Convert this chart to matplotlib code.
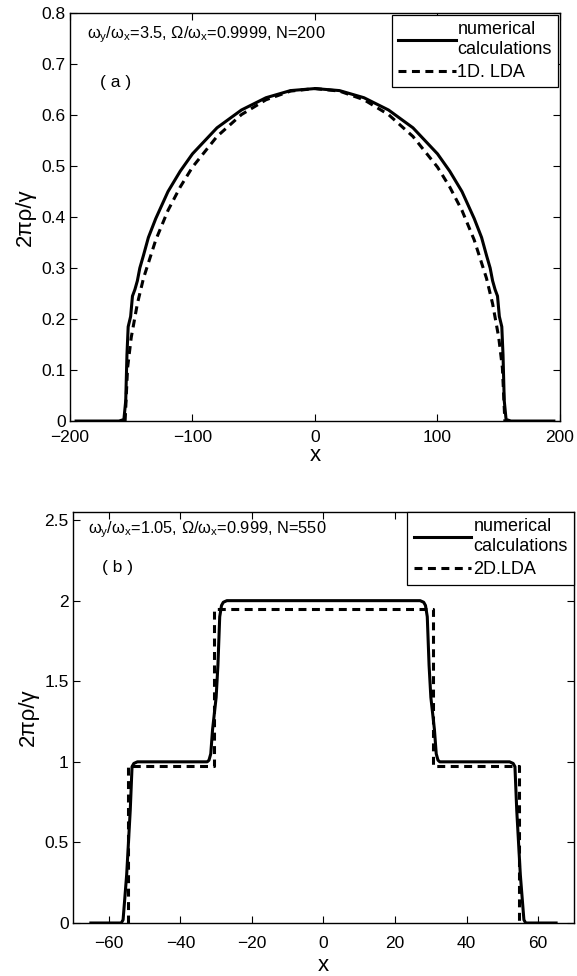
import matplotlib
matplotlib.use('Agg')
import matplotlib.pyplot as plt

plt.rcParams['font.family'] = ['Liberation Sans', 'DejaVu Sans']
plt.rcParams['mathtext.fontset'] = 'custom'
plt.rcParams['mathtext.rm'] = 'Liberation Sans'
plt.rcParams['mathtext.it'] = 'Liberation Sans'
plt.rcParams['mathtext.bf'] = 'Liberation Sans:bold'

# panel (a): density profile, numerical vs 1D LDA
xa_num = [-195, -160, -156, -154.5, -153.5, -152.5, -151.5, -150.5, -149, -147, -145,
          -143, -140, -136, -130, -120, -110, -100, -80, -60, -40, -20, 0,
          20, 40, 60, 80, 100, 110, 120, 130, 136, 140, 143, 145, 147, 149,
          150.5, 151.5, 152.5, 153.5, 154.5, 156, 160, 195]
ya_num = [0.0, 0.0, 0.003, 0.04, 0.13, 0.185, 0.195, 0.205, 0.245, 0.258, 0.275,
          0.30, 0.325, 0.36, 0.397, 0.45, 0.49, 0.524, 0.575, 0.61, 0.634, 0.648, 0.652,
          0.648, 0.634, 0.61, 0.575, 0.524, 0.49, 0.45, 0.397, 0.36, 0.325, 0.30, 0.275,
          0.258, 0.245, 0.205, 0.195, 0.185, 0.13, 0.04, 0.003, 0.0, 0.0]
xa_lda = [-155, -153, -150, -145, -140, -130, -120, -110, -100, -80, -60, -40, -20, 0,
          20, 40, 60, 80, 100, 110, 120, 130, 140, 145, 150, 153, 155]
ya_lda = [0.0, 0.104, 0.164, 0.23, 0.28, 0.355, 0.413, 0.459, 0.498, 0.558, 0.601, 0.63,
          0.647, 0.652, 0.647, 0.63, 0.601, 0.558, 0.498, 0.459, 0.413, 0.355, 0.28,
          0.23, 0.164, 0.104, 0.0]

# panel (b): shell structure, numerical vs 2D LDA
xb_num = [-65, -56.5, -56, -55, -54, -53.5, -53, -52, -33, -32.5, -32, -31.5, -31,
          -30.5, -30, -29.5, -29, -28.5, -28, -27, 0,
          27, 28, 28.5, 29, 29.5, 30, 30.5, 31, 31.5, 32, 32.5, 33, 52, 53, 53.5,
          54, 55, 56, 56.5, 65]
yb_num = [0.0, 0.0, 0.02, 0.3, 0.7, 0.97, 0.99, 1.0, 1.0, 1.0, 1.01, 1.05, 1.2,
          1.3, 1.4, 1.6, 1.9, 1.97, 1.99, 2.0, 2.0,
          2.0, 1.99, 1.97, 1.9, 1.6, 1.4, 1.3, 1.2, 1.05, 1.01, 1.0, 1.0, 1.0, 0.99,
          0.97, 0.7, 0.3, 0.02, 0.0, 0.0]
xb_lda = [-54.7, -54.7, -30.7, -30.7, 30.7, 30.7, 54.7, 54.7]
yb_lda = [0.0, 0.975, 0.975, 1.95, 1.95, 0.975, 0.975, 0.0]


def style(ax, xticks, yticks, ylabels, xpad, xlabelpad):
    ax.set_xticks(xticks)
    ax.set_xticklabels([str(t).replace('-', '\u2212') for t in xticks])
    ax.set_yticks(yticks)
    ax.set_yticklabels(ylabels)
    ax.tick_params(direction='in', length=5, width=0.8, top=True, right=True,
                   labelsize=12.5, pad=3)
    ax.tick_params(axis='x', pad=xpad)
    for s in ax.spines.values():
        s.set_linewidth(1.0)
    ax.set_xlabel('x', fontsize=16, labelpad=xlabelpad)
    ax.set_ylabel('2\u03c0\u03c1/\u03b3', fontsize=16, labelpad=4)


def legend(ax, pad):
    leg = ax.legend(loc='upper right', fontsize=13, handlelength=3.2, handletextpad=0.1,
                    borderaxespad=pad, fancybox=False, framealpha=1, borderpad=0.35,
                    labelspacing=0.35)
    leg.get_frame().set_edgecolor('black')
    leg.get_frame().set_linewidth(0.9)


fig = plt.figure(figsize=(5.77, 9.76), dpi=100)

ax1 = fig.add_axes([0.1213, 0.5686, 0.8492, 0.418])
ax1.plot(xa_num, ya_num, 'k-', lw=2.2, label='numerical\ncalculations')
ax1.plot(xa_lda, ya_lda, 'k--', lw=2.2, dashes=(2.6, 1.8), label='1D. LDA')
ax1.set_xlim(-200, 200)
ax1.set_ylim(0, 0.8)
style(ax1, [-200, -100, 0, 100, 200], [0, 0.1, 0.2, 0.3, 0.4, 0.5, 0.6, 0.7, 0.8],
      ['0', '0.1', '0.2', '0.3', '0.4', '0.5', '0.6', '0.7', '0.8'], 6.5, 0)
ax1.text(0.035, 0.946, r'$\omega_y/\omega_x$=3.5, $\Omega/\omega_x$=0.9999, N=200',
         transform=ax1.transAxes, fontsize=11.8, va='center', ha='left')
ax1.text(0.061, 0.831, '( a )', transform=ax1.transAxes, fontsize=12.5, va='center')
legend(ax1, 0.1)

ax2 = fig.add_axes([0.1265, 0.0543, 0.8683, 0.4211])
ax2.plot(xb_num, yb_num, 'k-', lw=2.2, label='numerical\ncalculations')
ax2.plot(xb_lda, yb_lda, 'k--', lw=2.2, dashes=(2.6, 1.8), label='2D.LDA')
ax2.set_xlim(-70, 70)
ax2.set_ylim(0, 2.55)
style(ax2, [-60, -40, -20, 0, 20, 40, 60], [0, 0.5, 1, 1.5, 2, 2.5],
      ['0', '0.5', '1', '1.5', '2', '2.5'], 9, 3)
ax2.text(0.03, 0.956, r'$\omega_y/\omega_x$=1.05, $\Omega/\omega_x$=0.999, N=550',
         transform=ax2.transAxes, fontsize=11.8, va='center', ha='left')
ax2.text(0.058, 0.864, '( b )', transform=ax2.transAxes, fontsize=12.5, va='center')
legend(ax2, 0.0)

fig.savefig('out.png', dpi=100)
